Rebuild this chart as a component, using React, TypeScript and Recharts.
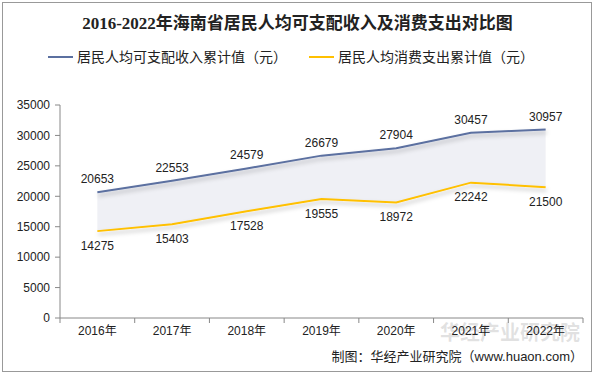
import React from "react";
import { ComposedChart, Line, Area, XAxis, YAxis, LabelList } from "recharts";

const years = ["2016年", "2017年", "2018年", "2019年", "2020年", "2021年", "2022年"];
const income = [20653, 22553, 24579, 26679, 27904, 30457, 30957];
const consumption = [14275, 15403, 17528, 19555, 18972, 22242, 21500];
const yTicks = [0, 5000, 10000, 15000, 20000, 25000, 30000, 35000];

const incomeName = "居民人均可支配收入累计值（元）";
const consumptionName = "居民人均消费支出累计值（元）";

const BLUE = "#5B70A0";
const YELLOW = "#FFC000";

const data = years.map((y, i) => ({
  year: y,
  income: income[i],
  consumption: consumption[i],
  range: [consumption[i], income[i]],
}));

const W = 595;
const H = 376;
const M = { top: 105, right: 12, bottom: 28, left: 10 };
const Y_W = 50;
const BAND = (W - M.left - M.right - Y_W) / years.length;

const font = "'Liberation Sans','Noto Sans CJK SC',sans-serif";

const XTick = (props: any) => {
  const { x, y, payload, index } = props;
  const axisY = y - 8;
  return (
    <g>
      {index === 0 && (
        <line x1={x - BAND / 2} x2={x - BAND / 2} y1={axisY} y2={axisY + 5} stroke="#888" />
      )}
      <line x1={x + BAND / 2} x2={x + BAND / 2} y1={axisY} y2={axisY + 5} stroke="#888" />
      <text x={x} y={y} dy="0.71em" textAnchor="middle" fontSize={12} fill="#222" fontFamily={font}>
        {payload.value}
      </text>
    </g>
  );
};

export default function App() {
  return (
    <div style={{ position: "absolute", left: 0, top: 0, width: W, height: H, background: "#fff", fontFamily: font }}>
      <div style={{ position: "absolute", left: 2, top: 2, width: 588, height: 368, border: "1px solid #999" }} />
      <div style={{ position: "absolute", left: 0, top: 13, width: W, textAlign: "center", fontSize: 17, fontWeight: "bold", color: "#222", fontFamily: "'Liberation Serif','Noto Sans CJK SC',serif", lineHeight: "22px" }}>
        2016-2022年海南省居民人均可支配收入及消费支出对比图
      </div>
      <div style={{ position: "absolute", left: 48, top: 48, fontSize: 14, color: "#222", lineHeight: "18px", display: "flex", alignItems: "center", whiteSpace: "nowrap" }}>
        <span style={{ display: "inline-block", width: 25, height: 2, background: BLUE, marginRight: 4 }} />
        <span>{incomeName}</span>
        <span style={{ display: "inline-block", width: 25, height: 2, background: YELLOW, marginLeft: 22, marginRight: 4 }} />
        <span>{consumptionName}</span>
      </div>
      <div style={{ position: "absolute", left: 440, top: 317, fontSize: 20, fontWeight: "bold", color: "rgba(150,150,150,0.28)", whiteSpace: "nowrap", fontFamily: "'Noto Sans CJK SC',sans-serif" }}>
        华经产业研究院
      </div>
      <div style={{ position: "absolute", left: 0, top: 0 }}>
        <ComposedChart width={W} height={H} data={data} margin={M}>
          <defs>
            <filter id="shadow" x="-10%" y="-50%" width="120%" height="200%">
              <feDropShadow dx="1" dy="3" stdDeviation="2" floodColor="#000" floodOpacity="0.25" />
            </filter>
          </defs>
          <XAxis dataKey="year" stroke="#888" tickLine={false} tickSize={5} tickMargin={3} height={30}
            tick={<XTick />} interval={0} padding={{ left: BAND / 2, right: BAND / 2 }} />
          <YAxis width={Y_W} domain={[0, 35000]} ticks={yTicks} stroke="#888" tickSize={5} tickMargin={5}
            tick={{ fill: "#222", fontSize: 12, fontFamily: font }} />
          <Area dataKey="range" fill="#EFF0F5" fillOpacity={1} stroke="none" isAnimationActive={false} />
          <Line dataKey="income" name={incomeName} stroke={BLUE} strokeWidth={2} dot={false} isAnimationActive={false} filter="url(#shadow)">
            <LabelList dataKey="income" position="top" offset={9} fontSize={12} fill="#222" fontFamily={font} />
          </Line>
          <Line dataKey="consumption" name={consumptionName} stroke={YELLOW} strokeWidth={2} dot={false} isAnimationActive={false} filter="url(#shadow)">
            <LabelList dataKey="consumption" position="bottom" offset={10} fontSize={12} fill="#222" fontFamily={font} />
          </Line>
        </ComposedChart>
      </div>
      <div style={{ position: "absolute", right: 12, top: 346, fontSize: 13, color: "#222", whiteSpace: "nowrap" }}>
        制图：华经产业研究院（www.huaon.com）
      </div>
    </div>
  );
}
